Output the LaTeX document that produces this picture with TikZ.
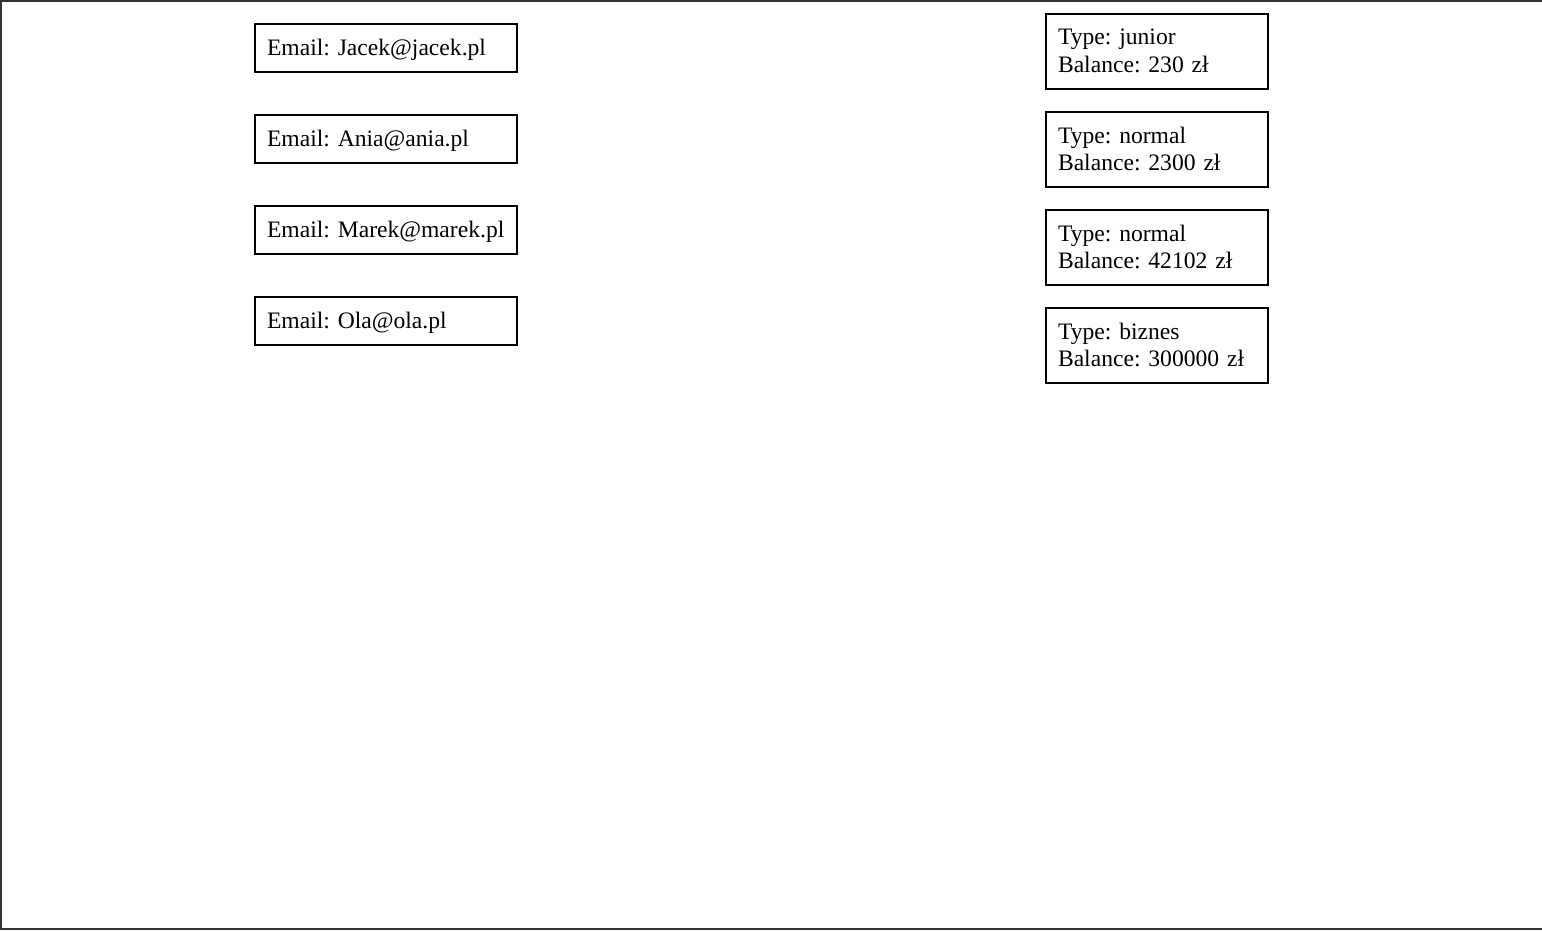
\documentclass[tikz,border=0pt]{standalone}
\usepackage{fontspec}
\setmainfont{Liberation Serif}
\frenchspacing
\definecolor{framegray}{RGB}{51,51,51}
\tikzset{
  basebox/.style={draw=black, line width=2pt, inner xsep=12pt, inner ysep=2pt, align=left,
    font=\fontsize{23.6}{27.5}\selectfont},
  emailbox/.style={basebox, text width=238pt, minimum height=48pt, text height=17pt, text depth=1pt},
  acctbox/.style={basebox, text width=198pt, minimum height=75pt},
}
\begin{document}
\begin{tikzpicture}[x=1pt,y=-1pt]
\useasboundingbox (0,0) rectangle (1542,930);
\draw[framegray, line width=2pt] (1542,1) -- (1,1) -- (1,929) -- (1542,929);
\node[emailbox] (e1) at (386,47.5) {\mbox{Email: Jacek@jacek.pl}};
\node[emailbox] (e2) at (386,138.5) {\mbox{Email: Ania@ania.pl}};
\node[emailbox] (e3) at (386,229.5) {\mbox{Email: Marek@marek.pl}};
\node[emailbox] (e4) at (386,320.5) {\mbox{Email: Ola@ola.pl}};
\node[acctbox] (a1) at (1157,51) {Type: junior\\Balance: 230 zł};
\node[acctbox] (a2) at (1157,149) {Type: normal\\Balance: 2300 zł};
\node[acctbox] (a3) at (1157,247) {Type: normal\\Balance: 42102 zł};
\node[acctbox] (a4) at (1157,345) {Type: biznes\\Balance: 300000 zł};
\end{tikzpicture}
\end{document}
